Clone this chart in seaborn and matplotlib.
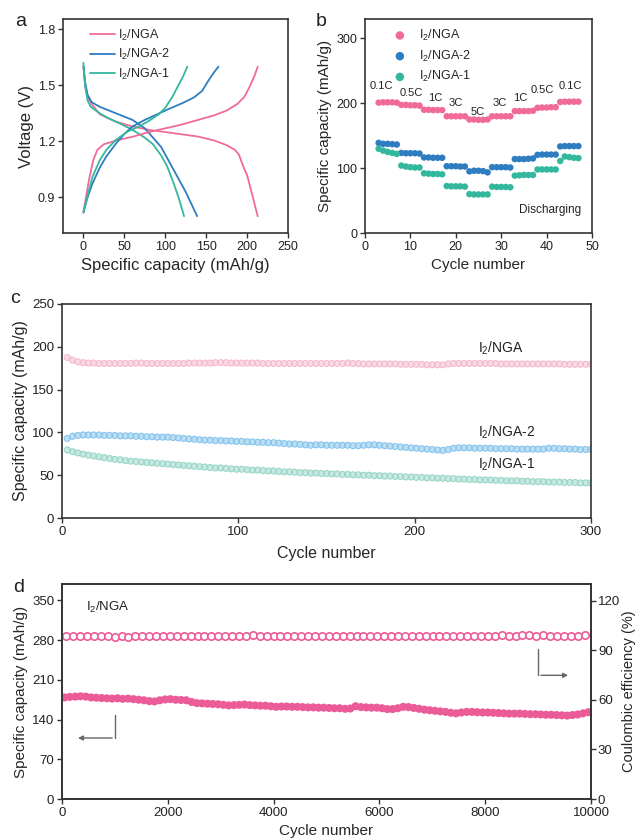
import numpy as np
import matplotlib
matplotlib.use("Agg")
import matplotlib.pyplot as plt
import seaborn as sns

# ---------- panel a: charge / discharge profiles (capacity, voltage) ----------
nga_dis_cap = [0, 2, 5, 10, 20, 40, 60, 80, 100, 120, 140, 160, 175, 185, 190, 195, 200, 206, 213]
nga_dis_v = [1.60, 1.50, 1.44, 1.40, 1.345, 1.305, 1.28, 1.262, 1.25, 1.238, 1.226, 1.205, 1.18, 1.155, 1.13, 1.07, 1.02, 0.92, 0.80]
nga_chg_cap = [0, 3, 7, 12, 17, 25, 40, 60, 80, 100, 120, 140, 160, 175, 188, 197, 204, 209, 213]
nga_chg_v = [0.82, 0.90, 1.00, 1.10, 1.155, 1.185, 1.205, 1.225, 1.25, 1.27, 1.29, 1.315, 1.34, 1.365, 1.40, 1.44, 1.50, 1.55, 1.60]

nga2_dis_cap = [0, 2, 5, 10, 20, 40, 60, 75, 85, 95, 105, 115, 125, 132, 139]
nga2_dis_v = [1.60, 1.52, 1.45, 1.41, 1.385, 1.35, 1.315, 1.27, 1.22, 1.17, 1.09, 1.01, 0.93, 0.865, 0.80]
nga2_chg_cap = [0, 5, 11, 20, 28, 40, 50, 60, 75, 90, 105, 121, 135, 145, 152, 158, 165]
nga2_chg_v = [0.82, 0.90, 0.975, 1.06, 1.12, 1.19, 1.24, 1.28, 1.315, 1.345, 1.375, 1.405, 1.435, 1.47, 1.52, 1.56, 1.60]

nga1_dis_cap = [0, 2, 5, 9, 20, 30, 45, 60, 75, 85, 95, 102, 110, 117, 123]
nga1_dis_v = [1.62, 1.50, 1.42, 1.385, 1.35, 1.325, 1.295, 1.262, 1.22, 1.185, 1.125, 1.07, 0.98, 0.89, 0.80]
nga1_chg_cap = [0, 5, 11, 20, 28, 40, 55, 68, 80, 92, 100, 109, 116, 122, 127]
nga1_chg_v = [0.82, 0.91, 1.01, 1.10, 1.155, 1.21, 1.255, 1.28, 1.31, 1.345, 1.38, 1.44, 1.50, 1.55, 1.60]

# ---------- panel b: rate capability, cycles 3..47 ----------
rate_cycles = list(range(3, 48))
rate_nga = [201, 201.5, 201.5, 201.5, 201, 197.5, 197.5, 197, 197, 196.5,
            190, 190, 189.5, 189.5, 189.5, 180, 180, 180, 180, 180,
            175, 175, 174.5, 174.5, 175, 180, 180, 180, 180, 180,
            188, 188, 188, 188, 188.5, 193, 193.5, 193.5, 194, 194,
            202, 202.5, 202.5, 202.5, 202.5]
rate_nga2 = [139, 137.5, 137.5, 137, 136.5, 123.5, 123, 123, 123, 122.5,
             116.5, 116.5, 116, 116, 116, 103, 103, 103, 102.5, 102.5,
             95, 96, 96, 95.5, 93.5, 101.5, 101.5, 101.5, 101.5, 101,
             114, 114, 114, 114.5, 115, 120.5, 121, 121, 121, 121,
             133.5, 134, 134, 134, 134]
rate_nga1 = [130, 127, 125, 123.5, 122, 104, 102.5, 101.5, 101, 101,
             92, 91.5, 91, 91, 90.5, 72.5, 72, 72, 72, 71.5,
             60, 59.5, 59.5, 59.5, 59.5, 71.5, 71, 71, 71, 70.5,
             88.5, 89, 89.5, 89.5, 89.5, 98, 98, 98, 98, 98,
             111, 118, 117, 116, 115.5]
rate_labels = ["0.1C", "0.5C", "1C", "3C", "5C", "3C", "1C", "0.5C", "0.1C"]
rate_label_x = [3.7, 10.1, 15.4, 19.9, 24.9, 29.6, 34.2, 39.1, 45.2]
rate_label_y = [226, 216, 208, 200, 186, 200, 208, 220, 226]

# ---------- panel c: cycling at low rate, every 3rd cycle from 3 to 300 ----------
cyc_c_nga = [187.5, 184.5, 182.5, 181.5, 181, 181, 180.5, 180.5, 180.5, 180.5,
             180.5, 180.5, 180.5, 181, 181, 180.5, 180.5, 180.5, 180.5, 180.5,
             180.5, 180.5, 180.5, 181, 181, 181, 181, 181, 181.5, 181.5,
             181.5, 181, 181, 181, 181, 181, 181, 180.5, 180.5, 180.5,
             180.5, 180.5, 180.5, 180.5, 180.5, 180.5, 180.5, 180.5, 180.5, 180.5,
             180.5, 180.5, 180.5, 181, 180.5, 180.5, 180, 180, 180, 180,
             180, 180, 180, 179.5, 179.5, 179.5, 179.5, 179.5, 179, 179,
             179, 179, 180, 180.5, 180.5, 180.5, 180.5, 180.5, 180.5, 180.5,
             180.5, 180.5, 180, 180, 180, 180, 180, 180, 180, 180,
             180, 180, 180, 180, 179.5, 179.5, 179.5, 179.5, 179.5, 179.5]
cyc_c_nga2 = [93, 95.5, 96.5, 97, 97, 97, 97, 96.5, 96.5, 96.5,
              96, 96, 96, 95.5, 95.5, 95, 95, 94.5, 94.5, 94.5,
              94, 93.5, 93, 92.5, 92, 91.5, 91, 91, 90.5, 90.5,
              90, 90, 89.5, 89.5, 89, 89, 88.5, 88.5, 88, 88,
              87.5, 87, 86.5, 86.5, 86, 85.5, 85, 85.5, 85.5, 85,
              85, 85, 85, 85, 84.5, 84.5, 85, 85.5, 85.5, 85,
              84.5, 84, 83.5, 83, 82.5, 82, 81.5, 81, 80.5, 80,
              79.5, 79, 80, 81.5, 82, 82, 82, 81.5, 81.5, 81.5,
              81.5, 81, 81, 81, 81, 80.5, 80.5, 80.5, 80.5, 80.5,
              80.5, 81.5, 81.5, 81, 81, 80.5, 80.5, 80, 80, 80]
cyc_c_nga1 = [79.5, 77.5, 76, 74.5, 73.5, 72.5, 71.5, 70.5, 69.5, 68.5,
              68, 67, 66.5, 66, 65.5, 65, 64.5, 64, 63.5, 63,
              62.5, 62, 61.5, 61, 60.5, 60, 59.5, 59, 58.5, 58.5,
              58, 57.5, 57, 57, 56.5, 56, 56, 55.5, 55, 55,
              54.5, 54, 54, 53.5, 53, 53, 52.5, 52.5, 52, 52,
              51.5, 51.5, 51, 51, 50.5, 50.5, 50, 50, 49.5, 49.5,
              49, 49, 48.5, 48.5, 48, 48, 47.5, 47.5, 47, 47,
              46.5, 46.5, 46, 46, 45.5, 45.5, 45, 45, 44.5, 44.5,
              44.5, 44, 44, 43.5, 43.5, 43.5, 43, 43, 42.5, 42.5,
              42.5, 42, 42, 42, 41.5, 41.5, 41.5, 41, 41, 41]
cycles_c = np.arange(1, len(cyc_c_nga) + 1) * 3

# ---------- panel d: long cycling of I2/NGA ----------
cap_d = [179, 180, 180.5, 181, 180.5, 179, 178.5, 178, 177.5, 177,
         177.5, 176.5, 177, 176, 175, 174, 172.5, 172, 174, 175.5,
         176, 175, 174.5, 174, 171, 169, 168.5, 168, 167.5, 167,
         166, 165, 165.5, 166, 166.5, 165.5, 165, 164.5, 164.5, 163.5,
         162.5, 163, 163, 162.5, 162.5, 162, 161.5, 161.5, 161, 161,
         160.5, 160, 160, 159, 159.5, 163.5, 162, 161.5, 161, 161,
         160, 158.5, 158.5, 160, 162.5, 162, 160.5, 159, 157.5, 156.5,
         155.5, 154.5, 153.5, 152, 151, 152.5, 153.5, 153.5, 153, 152.5,
         152.5, 152, 151.5, 151, 150.5, 150.5, 150.5, 150, 149.5, 149.5,
         149, 148.5, 148.5, 148, 147.5, 147, 148, 149, 151, 153]
cycles_d = np.arange(len(cap_d)) * 100 + 50
ce_d = [98.3, 98.3, 98.4, 98.3, 98.3, 98.4, 98.3, 98.2, 98.4, 98.0,
        98.3, 98.4, 98.3, 98.4, 98.3, 98.4, 98.5, 98.4, 98.3, 98.4,
        98.5, 98.4, 98.5, 98.6, 98.5, 98.4, 98.5, 98.9, 98.4, 98.5,
        98.5, 98.4, 98.5, 98.3, 98.6, 98.7, 98.6, 98.6, 98.5, 98.6,
        98.5, 98.6, 98.6, 98.7, 98.6, 98.7, 98.6, 98.7, 98.7, 98.6,
        98.5, 98.6, 98.7, 98.7, 98.8, 98.7, 98.7, 98.8, 98.7, 98.8,
        98.8, 98.7, 98.8, 98.9, 98.8, 98.8, 98.9, 98.9, 98.8, 98.9,
        98.8, 98.8, 98.7, 98.8, 98.8, 98.9]
cycles_ce = np.linspace(80, 9880, len(ce_d))

PINK, BLUE, TEAL = "#f06b98", "#2f7dc1", "#33b89e"
PALE_PINK, PALE_BLUE, PALE_TEAL = "#f6bccd", "#88c5ec", "#9cd7c9"
MAGENTA = "#eb5b97"
INK = "#222222"

sns.set_theme(style="ticks")
plt.rcParams["font.family"] = ["Liberation Sans", "DejaVu Sans"]
plt.rcParams["mathtext.fontset"] = "custom"
plt.rcParams["mathtext.rm"] = "Liberation Sans"
plt.rcParams["mathtext.it"] = "Liberation Sans"
plt.rcParams["axes.edgecolor"] = "#333333"
plt.rcParams["axes.linewidth"] = 1.2
plt.rcParams["xtick.color"] = "#333333"
plt.rcParams["ytick.color"] = "#333333"
plt.rcParams["xtick.labelcolor"] = INK
plt.rcParams["ytick.labelcolor"] = INK

fig = plt.figure(figsize=(6.35, 8.4), dpi=100)
ax_a = fig.add_axes([0.0992, 0.7226, 0.3543, 0.2548])
ax_b = fig.add_axes([0.5748, 0.7226, 0.3575, 0.2548])
ax_c = fig.add_axes([0.0976, 0.3833, 0.8331, 0.2548])
ax_d = fig.add_axes([0.0976, 0.0488, 0.8331, 0.2560])

TICK_AB = 9
TICK_CD = 9.5
LAB = 11

# ---- a ----
for cap, v, col, lab in [(nga_dis_cap, nga_dis_v, PINK, "I$_2$/NGA"),
                         (nga2_dis_cap, nga2_dis_v, BLUE, "I$_2$/NGA-2"),
                         (nga1_dis_cap, nga1_dis_v, TEAL, "I$_2$/NGA-1")]:
    sns.lineplot(x=cap, y=v, ax=ax_a, color=col, lw=1.3, sort=False, estimator=None, label=lab)
for cap, v, col in [(nga_chg_cap, nga_chg_v, PINK),
                    (nga2_chg_cap, nga2_chg_v, BLUE),
                    (nga1_chg_cap, nga1_chg_v, TEAL)]:
    sns.lineplot(x=cap, y=v, ax=ax_a, color=col, lw=1.3, sort=False, estimator=None)
ax_a.set_xlim(-25, 250)
ax_a.set_ylim(0.71, 1.855)
ax_a.set_xticks([0, 50, 100, 150, 200, 250])
ax_a.set_yticks([0.9, 1.2, 1.5, 1.8])
ax_a.set_xlabel("Specific capacity (mAh/g)", fontsize=12, labelpad=4)
ax_a.set_ylabel("Voltage (V)", fontsize=12, labelpad=3)
ax_a.legend(loc="upper left", bbox_to_anchor=(0.08, 1.0), frameon=False, fontsize=9,
            handlelength=2.0, handletextpad=0.3, labelspacing=0.35, borderaxespad=0.3)

# ---- b ----
for vals, col, lab in [(rate_nga, PINK, "I$_2$/NGA"), (rate_nga2, BLUE, "I$_2$/NGA-2"),
                       (rate_nga1, TEAL, "I$_2$/NGA-1")]:
    sns.scatterplot(x=rate_cycles, y=vals, ax=ax_b, color=col, s=22, edgecolor="none", label=lab)
for t, x, y in zip(rate_labels, rate_label_x, rate_label_y):
    ax_b.text(x, y, t, fontsize=8, ha="center", va="center", color=INK)
ax_b.text(40.8, 36, "Discharging", fontsize=8.5, ha="center", va="center", color=INK)
ax_b.set_xlim(0, 50)
ax_b.set_ylim(0, 330)
ax_b.set_xticks([0, 10, 20, 30, 40, 50])
ax_b.set_yticks([0, 100, 200, 300])
ax_b.set_xlabel("Cycle number", fontsize=LAB, labelpad=4)
ax_b.set_ylabel("Specific capacity (mAh/g)", fontsize=LAB, labelpad=3)
ax_b.legend(loc="upper left", bbox_to_anchor=(0.06, 1.0), frameon=False, fontsize=9,
            handletextpad=0.5, labelspacing=0.45, borderaxespad=0.3, markerscale=1.3)

# ---- c ----
for vals, col in [(cyc_c_nga, PALE_PINK), (cyc_c_nga2, PALE_BLUE), (cyc_c_nga1, PALE_TEAL)]:
    sns.lineplot(x=cycles_c, y=vals, ax=ax_c, color=col, lw=3.2, alpha=0.55,
                 estimator=None, sort=False)
    sns.scatterplot(x=cycles_c, y=vals, ax=ax_c, marker="o", s=18, facecolor="none",
                    edgecolor=col, linewidth=0.9)
ax_c.text(236, 198, "I$_2$/NGA", fontsize=10, ha="left", va="center", color=INK)
ax_c.text(236, 100.5, "I$_2$/NGA-2", fontsize=10, ha="left", va="center", color=INK)
ax_c.text(236, 62.5, "I$_2$/NGA-1", fontsize=10, ha="left", va="center", color=INK)
ax_c.set_xlim(0, 300)
ax_c.set_ylim(0, 250)
ax_c.set_xticks([0, 100, 200, 300])
ax_c.set_yticks([0, 50, 100, 150, 200, 250])
ax_c.set_xlabel("Cycle number", fontsize=11.5, labelpad=6)
ax_c.set_ylabel("Specific capacity (mAh/g)", fontsize=11.5, labelpad=3)

# ---- d ----
sns.scatterplot(x=cycles_d, y=cap_d, ax=ax_d, color=MAGENTA, s=34, edgecolor="none")
ax_d2 = ax_d.twinx()
sns.scatterplot(x=cycles_ce, y=ce_d, ax=ax_d2, marker="o", s=28, facecolor="white",
                edgecolor=MAGENTA, linewidth=1.2)
ax_d.plot([1000, 1000], [148, 107.5], color="#666666", lw=1)
ax_d.annotate("", xy=(250, 107.5), xytext=(1000, 107.5),
              arrowprops=dict(arrowstyle="-|>", color="#666666", lw=1, mutation_scale=7))
ax_d.plot([9000, 9000], [264, 218], color="#666666", lw=1)
ax_d.annotate("", xy=(9620, 218), xytext=(9000, 218),
              arrowprops=dict(arrowstyle="-|>", color="#666666", lw=1, mutation_scale=7))
ax_d.text(460, 338, "I$_2$/NGA", fontsize=9.5, ha="left", va="center", color=INK)
ax_d.set_xlim(0, 10000)
ax_d.set_ylim(0, 379)
ax_d.set_xticks([0, 2000, 4000, 6000, 8000, 10000])
ax_d.set_yticks([0, 70, 140, 210, 280, 350])
ax_d2.set_ylim(0, 130)
ax_d2.set_yticks([0, 30, 60, 90, 120])
ax_d.set_xlabel("Cycle number", fontsize=LAB, labelpad=4)
ax_d.set_ylabel("Specific capacity (mAh/g)", fontsize=LAB, labelpad=3)
ax_d2.set_ylabel("Coulombic efficiency (%)", fontsize=10.5, labelpad=1)

for ax, fs in [(ax_a, TICK_AB), (ax_b, TICK_AB), (ax_c, TICK_CD), (ax_d, TICK_CD), (ax_d2, TICK_CD)]:
    ax.tick_params(labelsize=fs, direction="out", length=3.5, width=1, pad=2)
    for s in ax.spines.values():
        s.set_visible(True)
        s.set_linewidth(1.2)
ax_d2.tick_params(pad=1.5)

# panel letters, placed in figure pixels / size
W, H = 635, 840
for letter, px, py in [("a", 21, 22), ("b", 321, 22), ("c", 15, 298), ("d", 19, 587)]:
    fig.text(px / W, 1 - py / H, letter, fontsize=14, ha="center", va="center", color=INK)

fig.savefig("out.png", dpi=100)
